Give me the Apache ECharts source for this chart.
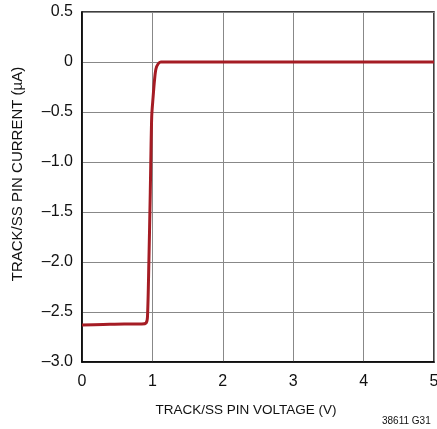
<!DOCTYPE html>
<html><head><meta charset="utf-8">
<script src="https://cdn.jsdelivr.net/npm/echarts@6/dist/echarts.min.js"></script>
<style>html,body{margin:0;padding:0;background:#fff}#c{width:437px;height:429px}</style>
</head><body><div id="c"></div>
<script>
const voltage = [0, 0.3, 0.6, 0.85, 0.91, 0.93, 0.95, 0.97, 0.99, 1.01, 1.03, 1.05, 1.08, 1.12, 2, 3, 4, 5];
const current = [-2.63, -2.625, -2.62, -2.62, -2.61, -2.55, -2.0, -1.3, -0.55, -0.35, -0.18, -0.07, -0.02, 0, 0, 0, 0, 0];
const xTicks = ['0','1','2','3','4','5'];
const yTicks = {'0.5':'0.5','0':'0','-0.5':'–0.5','-1':'–1.0','-1.5':'–1.5','-2':'–2.0','-2.5':'–2.5','-3':'–3.0'};
const xTitle = 'TRACK/SS PIN VOLTAGE (V)';
const yTitle = 'TRACK/SS PIN CURRENT (µA)';
const FONT = '"Liberation Sans",Arial,sans-serif';
const chart = echarts.init(document.getElementById('c'));
chart.setOption({
  animation:false,
  grid:{left:82,top:12,right:3,bottom:67,show:true,borderColor:'#000',borderWidth:1.5,outerBoundsMode:'none',containLabel:false},
  xAxis:{type:'value',min:0,max:5,interval:1,
    axisLine:{show:true,onZero:false,lineStyle:{color:'#000',width:1.5}},axisTick:{show:false},
    axisLabel:{fontFamily:FONT,fontSize:16,color:'#111',margin:12,formatter:v=>xTicks[Math.round(v)]},
    splitLine:{show:true,lineStyle:{color:'#888',width:1}}},
  yAxis:{type:'value',min:-3,max:0.5,interval:0.5,
    axisLine:{show:true,onZero:false,lineStyle:{color:'#000',width:1.5}},axisTick:{show:false},
    axisLabel:{fontFamily:FONT,fontSize:16,color:'#111',margin:9,formatter:v=>yTicks[String(Math.round(v*10)/10)]},
    splitLine:{show:true,lineStyle:{color:'#888',width:1}}},
  graphic:[
    {type:'text',x:246,y:410,style:{text:xTitle,font:'13.5px '+FONT,fill:'#111',align:'center',verticalAlign:'middle'}},
    {type:'text',x:18,y:174,rotation:Math.PI/2,style:{text:yTitle,font:'15px '+FONT,fill:'#111',align:'center',verticalAlign:'middle'}},
    {type:'text',x:382,y:421,style:{text:'38611 G31',font:'10px '+FONT,fill:'#111',verticalAlign:'middle'}}
  ],
  series:[{type:'line',data:voltage.map((v,i)=>[v,current[i]]),showSymbol:false,smooth:0.3,
    lineStyle:{color:'#a51c24',width:3}}]
});
</script></body></html>
